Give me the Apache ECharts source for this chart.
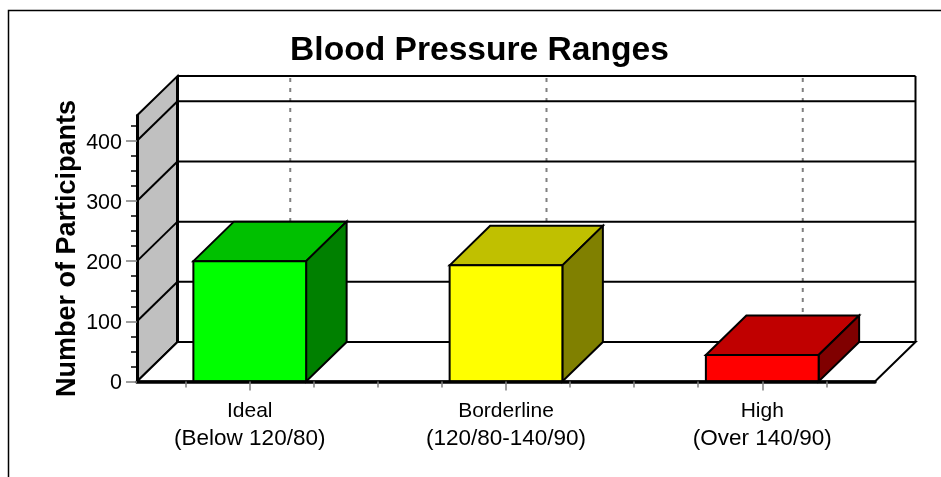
<!DOCTYPE html>
<html>
<head>
<meta charset="utf-8">
<style>html,body{margin:0;padding:0;background:#fff}#c{width:941px;height:477px}</style>
<script src="https://cdn.jsdelivr.net/npm/echarts@6/dist/echarts.min.js"></script>
</head>
<body>
<div id="c"></div>
<script>
const categoryNames = ['Ideal', 'Borderline', 'High'];
const categoryRanges = ['(Below 120/80)', '(120/80-140/90)', '(Over 140/90)'];
const values = [200, 193, 44];
const frontColors = ['#00ff00', '#ffff00', '#ff0000'];
const topColors = ['#00c000', '#c0c000', '#c00000'];
const sideColors = ['#008000', '#808000', '#800000'];
const yTicks = [0, 100, 200, 300, 400];
const yMinorTicks = [25, 50, 75, 125, 150, 175, 225, 250, 275, 325, 350, 375, 425];
const xTicks = [0, 1, 2];
const xMinorTicks = [-0.25, 0.25, 0.5, 0.75, 1.25, 1.5, 1.75, 2.25];

const X_MIN = -0.44, X_MAX = 2.44, Y_MAX = 442;
const BAR_W = 0.44, DX = 40.5, DY = 39.5;
const LINE = { stroke: '#000', lineWidth: 2, fill: null };

function line(x1, y1, x2, y2, style) {
  return { type: 'line', shape: { x1, y1, x2, y2 }, style: Object.assign({}, LINE, style) };
}
function poly(points, fill, lineWidth) {
  return { type: 'polygon', shape: { points }, style: { fill, stroke: '#000', lineWidth: lineWidth || 2, lineJoin: 'miter' } };
}

function renderFrame(params, api) {
  const [x0, y0] = api.coord([X_MIN, 0]);
  const [x1, yTop] = api.coord([X_MAX, Y_MAX]);
  const children = [];
  children.push(poly([[x0, y0], [x0 + DX, y0 - DY], [x0 + DX, yTop - DY], [x0, yTop]], '#c0c0c0'));
  children.push(poly([[x0, y0], [x0 + DX, y0 - DY], [x1 + DX, y0 - DY], [x1, y0]], '#fff'));
  xTicks.forEach(t => {
    const x = api.coord([t, 0])[0] + DX;
    children.push(line(x, yTop - DY + 2, x, y0 - DY, { stroke: '#808080', lineWidth: 2, lineDash: [4, 6] }));
  });
  yTicks.forEach(t => {
    const y = api.coord([X_MIN, t])[1];
    if (t > 0) {
      children.push(line(x0, y, x0 + DX, y - DY));
      children.push(line(x0 + DX, y - DY, x1 + DX, y - DY));
    }
  });
  children.push(line(x0 + DX, yTop - DY, x1 + DX, yTop - DY));
  children.push(line(x1 + DX, yTop - DY, x1 + DX, y0 - DY));
  children.push(line(x0 + DX, yTop - DY, x0 + DX, y0 - DY, { lineWidth: 3 }));
  return { type: 'group', children };
}

function renderBar(params, api) {
  const i = api.value(0), v = api.value(1);
  const [xl, yt] = api.coord([i - BAR_W / 2, v]);
  const [xr, yb] = api.coord([i + BAR_W / 2, 0]);
  return {
    type: 'group',
    children: [
      poly([[xl, yt], [xl + DX, yt - DY], [xr + DX, yt - DY], [xr, yt]], topColors[i]),
      poly([[xr, yt], [xr + DX, yt - DY], [xr + DX, yb - DY], [xr, yb]], sideColors[i]),
      poly([[xl, yt], [xr, yt], [xr, yb], [xl, yb]], frontColors[i])
    ]
  };
}

const chart = echarts.init(document.getElementById('c'), null, { renderer: 'canvas' });
chart.setOption({
  animation: false,
  backgroundColor: '#fff',
  textStyle: { fontFamily: '"Liberation Sans", Arial, sans-serif' },
  title: {
    text: 'Blood Pressure Ranges',
    left: 474.5, top: 29, textAlign: 'center',
    textStyle: { fontFamily: '"Liberation Sans"', fontWeight: 'bold', fontSize: 33.6, color: '#000' }
  },
  graphic: [{
    type: 'polyline', silent: true, z: 0,
    shape: { points: [[8.5, 480], [8.5, 10.5], [945, 10.5]] },
    style: { stroke: '#000', lineWidth: 1.5, fill: null }
  }],
  grid: { left: 137, top: 115.5, width: 738, height: 266 },
  xAxis: [{
    type: 'value', min: X_MIN, max: X_MAX, z: 5,
    splitLine: { show: false },
    axisLine: { show: true, onZero: false, lineStyle: { color: '#000', width: 3.5 } },
    axisTick: { show: true, customValues: xTicks, length: 9, lineStyle: { color: '#808080', width: 1.5 } },
    axisLabel: {
      show: true, customValues: xTicks, margin: 16, color: '#000',
      formatter: v => '{a|' + categoryNames[v] + '}\n{b|' + categoryRanges[v] + '}',
      rich: {
        a: { fontFamily: '"Liberation Sans"', fontSize: 21, lineHeight: 27.5, color: '#000' },
        b: { fontFamily: '"Liberation Sans"', fontSize: 22.5, lineHeight: 27.5, color: '#000' }
      }
    }
  }, {
    type: 'value', min: X_MIN, max: X_MAX, z: 5, position: 'bottom',
    splitLine: { show: false },
    axisLine: { show: false, onZero: false },
    axisTick: { show: true, customValues: xMinorTicks, length: 6, lineStyle: { color: '#808080', width: 1.5 } },
    axisLabel: { show: false }
  }],
  yAxis: [{
    type: 'value', min: 0, max: Y_MAX, z: 5,
    name: 'Number of Participants', nameLocation: 'middle', nameGap: 56, nameRotate: 90,
    nameMoveOverlap: false,
    nameTextStyle: { fontFamily: '"Liberation Sans"', fontWeight: 'bold', fontSize: 27, color: '#000' },
    splitLine: { show: false },
    axisLine: { show: true, onZero: false, lineStyle: { color: '#000', width: 3 } },
    axisTick: { show: true, customValues: yTicks, length: 11, lineStyle: { color: '#808080', width: 1.5 } },
    axisLabel: {
      show: true, customValues: yTicks, margin: 15, verticalAlign: 'top', lineHeight: 4,
      fontFamily: '"Liberation Sans"', fontSize: 21.5, color: '#000'
    }
  }, {
    type: 'value', min: 0, max: Y_MAX, z: 6, position: 'left',
    splitLine: { show: false },
    axisLine: { show: false, onZero: false },
    axisTick: { show: true, customValues: yMinorTicks, length: 6, lineStyle: { color: '#000', width: 1.5 } },
    axisLabel: { show: false }
  }],
  series: [{
    type: 'custom', z: 1, silent: true,
    coordinateSystem: 'cartesian2d',
    renderItem: renderFrame,
    data: [[0, 0]]
  }, {
    type: 'custom', z: 2,
    coordinateSystem: 'cartesian2d',
    renderItem: renderBar,
    encode: { x: 0, y: 1 },
    data: values.map((v, i) => [i, v])
  }]
});
</script>
</body>
</html>
